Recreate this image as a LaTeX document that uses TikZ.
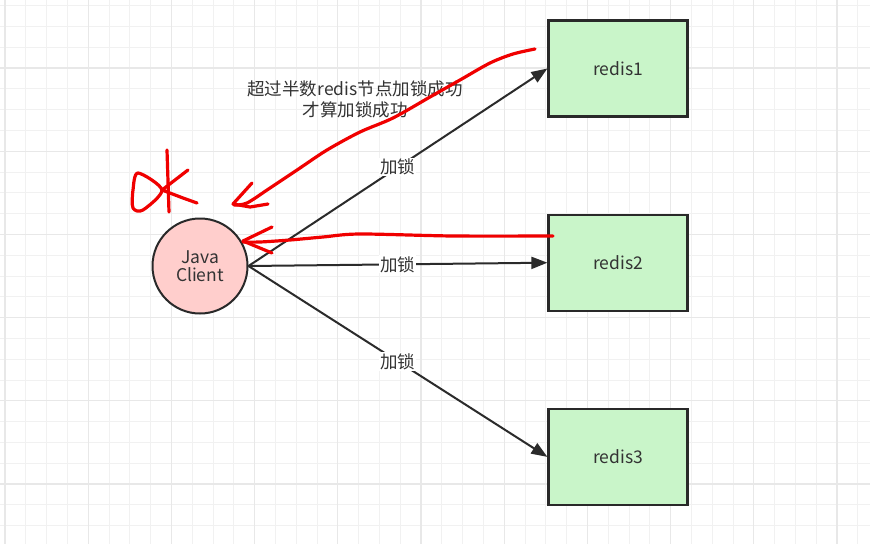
\documentclass[tikz,border=0pt]{standalone}
\usepackage{fontspec}
\newfontfamily\cjk{Noto Sans CJK SC}
\usetikzlibrary{arrows.meta,positioning}

\definecolor{redisgreen}{RGB}{201,245,201}
\definecolor{clientpink}{RGB}{255,206,204}
\definecolor{inkgray}{RGB}{51,51,51}
\definecolor{gridminor}{RGB}{241,241,241}
\definecolor{gridmajor}{RGB}{232,232,232}
\definecolor{penred}{RGB}{240,0,0}

\begin{document}
\begin{tikzpicture}[x=1pt,y=-1pt,
  node distance=96pt,
  box/.style={draw=inkgray!80!black,line width=2.2pt,fill=redisgreen,minimum width=139pt,minimum height=96pt,font=\cjk\fontsize{17.5}{20}\selectfont,text=inkgray},
  client/.style={circle,draw=inkgray!80!black,line width=2pt,fill=clientpink,minimum size=95pt,inner sep=0pt,align=center,font=\cjk\fontsize{17.5}{20}\selectfont,text=inkgray},
  req/.style={-{Triangle[length=16pt,width=12pt]},line width=2pt,draw=inkgray!85!black},
  tag/.style={fill=white,inner sep=1pt,font=\cjk\fontsize{17.5}{20}\selectfont,text=inkgray},
  note/.style={align=center,font=\cjk\fontsize{17.5}{21}\selectfont,text=inkgray},
  pen/.style={draw=penred,line width=3.2pt,line cap=round,line join=round}]
  \useasboundingbox (0,0) rectangle (870,544);
  \fill[white] (0,0) rectangle (870,544);
  % grid
  \foreach \i in {0,...,41}
    \draw[gridminor,line width=1pt] (5+20.8*\i,0) -- (5+20.8*\i,544);
  \foreach \j in {0,...,26}
    \draw[gridminor,line width=1pt] (0,5.6+20.8*\j) -- (870,5.6+20.8*\j);
  \foreach \i in {0,...,10}
    \draw[gridmajor,line width=1.2pt] (5+83.2*\i,0) -- (5+83.2*\i,544);
  \foreach \j in {0,...,6}
    \draw[gridmajor,line width=1.2pt] (0,68+83.2*\j) -- (870,68+83.2*\j);

  \node[client] (jc) at (200,266) {Java\\[-2pt]Client};
  \node[box] (r1) at (618,68.5) {redis1};
  \node[box,below=of r1] (r2) {redis2};
  \node[box,below=of r2] (r3) {redis3};

  \draw[req] (jc.east) -- node[tag]{加锁} (r1.west);
  \draw[req] (jc.east) -- node[tag]{加锁} (r2.west);
  \draw[req] (jc.east) -- node[tag]{加锁} (r3.west);

  \node[note] (rule) at (355,99) {超过半数redis节点加锁成功\\才算加锁成功};

  % hand marks
  \draw[pen] plot[smooth] coordinates {(535,49) (513,54) (490,63) (460,80) (430,97) (393,118) (360,132) (327,150) (300,168) (270,188) (247,203) (234,205)};
  \draw[pen] (252,183) -- (233,204) -- (250,207) -- (268,204);
  \draw[pen] plot[smooth] coordinates {(553,236) (453,236) (360,234) (323,237) (290,240) (260,242) (243,242)};
  \draw[pen] (272,227) -- (243,241) -- (272,253);
  \draw[pen] plot[smooth cycle] coordinates {(138,173) (133,190) (133,208) (143,210) (162,190)};
  \draw[pen] (167,150) -- (169,212);
  \draw[pen] (188,170) -- (162,190) -- (183,198) -- (197,203);
\end{tikzpicture}
\end{document}
